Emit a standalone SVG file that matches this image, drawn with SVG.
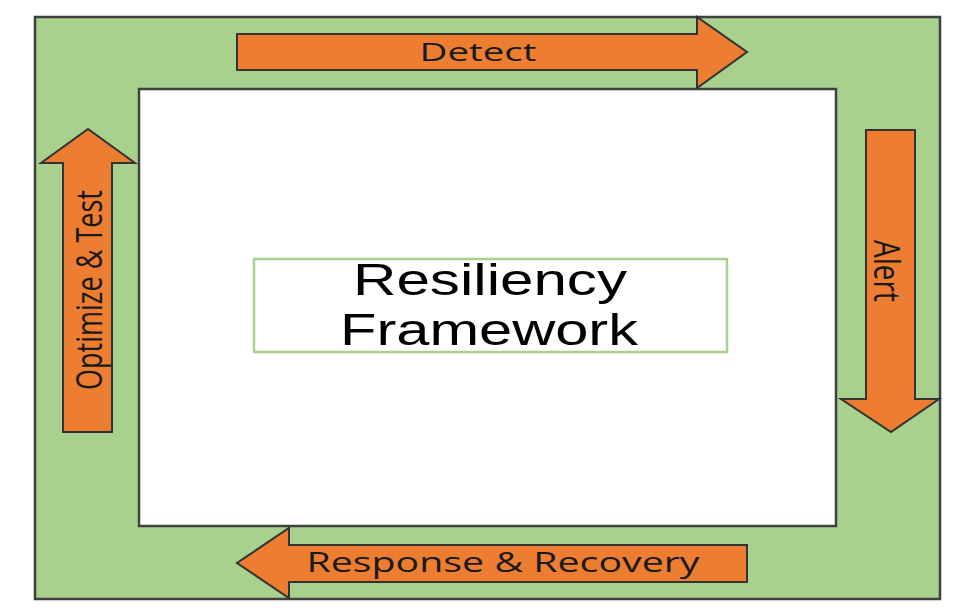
<svg xmlns="http://www.w3.org/2000/svg" width="972" height="615" viewBox="0 0 972 615">
<style>
.frame{fill:#A9D18E;stroke:#404040;stroke-width:2.5}
.inner{fill:#FFFFFF;stroke:#404040;stroke-width:2.5}
.arrow{fill:#ED7D31;stroke:#333333;stroke-width:2;stroke-linejoin:miter}
.lbl{font-family:"Open Sans","Noto Sans",sans-serif;fill:#1a1a1a;text-anchor:middle}
.title{font-family:"Liberation Sans",Arial,sans-serif;font-size:45px;fill:#000;text-anchor:middle}
</style>
<rect width="972" height="615" fill="#FFFFFF"/>
<g id="frame">
<rect class="frame" x="35" y="17" width="905" height="582"/>
<rect class="inner" x="139" y="89" width="697" height="437"/>
</g>
<g id="center">
<rect x="254" y="259" width="473" height="93" fill="#FFFFFF" stroke="#A9D18E" stroke-width="2.5"/>
<text class="title" x="490" y="295" textLength="274" lengthAdjust="spacingAndGlyphs">Resiliency</text>
<text class="title" x="489" y="345" textLength="298" lengthAdjust="spacingAndGlyphs">Framework</text>
</g>
<g id="connectors">
<g id="detect">
<polygon class="arrow" points="237,34 697,34 697,17 747,52 697,88 697,70 237,70"/>
<text class="lbl" x="478" y="61" font-size="25" textLength="117" lengthAdjust="spacingAndGlyphs">Detect</text>
</g>
<g id="alert">
<polygon class="arrow" points="866,130 915,130 915,399 939,399 891,432 841,399 866,399"/>
<text class="lbl" transform="translate(874 271) rotate(90)" x="0" y="0" font-size="36" textLength="62" lengthAdjust="spacingAndGlyphs">Alert</text>
</g>
<g id="response">
<polygon class="arrow" points="747,545 747,582 289,582 289,598 237,563 289,528 289,545"/>
<text class="lbl" x="503" y="572" font-size="28" textLength="393" lengthAdjust="spacingAndGlyphs">Response &amp; Recovery</text>
</g>
<g id="optimize">
<polygon class="arrow" points="63,432 63,163 41,163 88,129 135,163 112,163 112,432"/>
<text class="lbl" transform="translate(102 290) rotate(-90)" x="0" y="0" font-size="37" textLength="200" lengthAdjust="spacingAndGlyphs">Optimize &amp; Test</text>
</g>
</g>
</svg>
